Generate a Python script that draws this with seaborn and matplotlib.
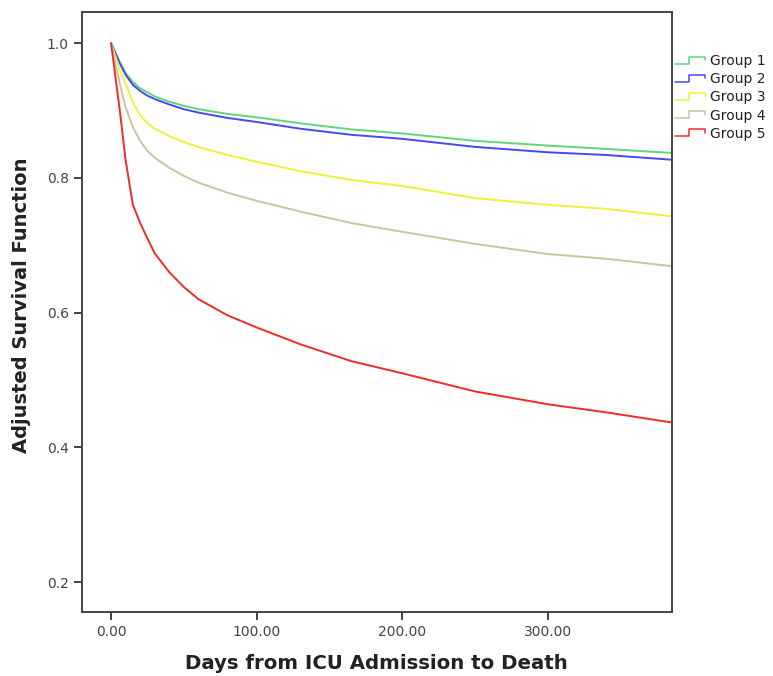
import numpy as np
import pandas as pd
import matplotlib
matplotlib.use("Agg")
import matplotlib.pyplot as plt
import seaborn as sns
from matplotlib.lines import Line2D
from matplotlib.legend_handler import HandlerBase

# Adjusted survival curves
days = [0, 3, 6, 10, 15, 20, 25, 30, 40, 50, 60, 80, 100, 130, 165, 200, 250, 300, 340, 385]
group1 = [1.0, 0.986, 0.972, 0.956, 0.942, 0.933, 0.927, 0.921, 0.913, 0.907, 0.902, 0.895,
          0.890, 0.881, 0.872, 0.866, 0.855, 0.848, 0.843, 0.837]
group2 = [1.0, 0.985, 0.970, 0.953, 0.938, 0.929, 0.922, 0.917, 0.909, 0.902, 0.897, 0.889,
          0.883, 0.873, 0.864, 0.858, 0.846, 0.838, 0.834, 0.827]
group3 = [1.0, 0.980, 0.960, 0.940, 0.912, 0.893, 0.881, 0.873, 0.862, 0.853, 0.846, 0.834,
          0.824, 0.810, 0.797, 0.788, 0.770, 0.760, 0.754, 0.743]
group4 = [1.0, 0.970, 0.940, 0.905, 0.875, 0.855, 0.840, 0.830, 0.815, 0.803, 0.793, 0.778,
          0.766, 0.750, 0.733, 0.720, 0.702, 0.687, 0.680, 0.669]
group5 = [1.0, 0.950, 0.900, 0.826, 0.760, 0.733, 0.710, 0.688, 0.660, 0.638, 0.620, 0.596,
          0.578, 0.553, 0.528, 0.510, 0.483, 0.464, 0.452, 0.437]

groups = ["Group 1", "Group 2", "Group 3", "Group 4", "Group 5"]
colors = ["#5ed67a", "#4848f5", "#f0f03c", "#cbc49c", "#ee2b2b"]
x_ticks = [0, 100, 200, 300]
y_ticks = [0.2, 0.4, 0.6, 0.8, 1.0]

rows = []
for name, vals in zip(groups, [group1, group2, group3, group4, group5]):
    for d, v in zip(days, vals):
        rows.append({"days": d, "survival": v, "group": name})
df = pd.DataFrame(rows)


class StepHandler(HandlerBase):
    # draws the little step icon SPSS uses in its legend
    def create_artists(self, legend, orig_handle, xdescent, ydescent,
                       width, height, fontsize, trans):
        x0, x1 = -xdescent, -xdescent + width
        y0, y1 = -ydescent + 0.15 * height, -ydescent + 0.85 * height
        xs = [x0, x0 + 0.45 * width, x0 + 0.45 * width, x1, x1]
        ys = [y0, y0, y1, y1, y0 + 0.35 * height]
        line = Line2D(xs, ys, color=orig_handle.get_color(), lw=1.1, transform=trans)
        return [line]


sns.set_style("white")
plt.rcParams['font.family'] = ['DejaVu Sans']

fig = plt.figure(figsize=(7.73, 6.76), dpi=100)
ax = fig.add_axes([0.106, 0.095, 0.763, 0.887])

sns.lineplot(data=df, x="days", y="survival", hue="group", palette=colors,
             hue_order=groups, linewidth=1.4, ax=ax, legend=False, estimator=None)

ax.set_xlim(-20, 385)
ax.set_ylim(0.156, 1.046)
ax.set_xticks(x_ticks)
ax.set_xticklabels([f"{t:.2f}" for t in x_ticks])
ax.set_yticks(y_ticks)
ax.set_yticklabels([f"{t:.1f}" for t in y_ticks])
ax.tick_params(direction="out", length=6, width=1.3, colors="#333333",
               labelsize=10, labelcolor="#444444", bottom=True, left=True)

for s in ax.spines.values():
    s.set_color("#444444")
    s.set_linewidth(1.4)

ax.set_xlabel("Days from ICU Admission to Death", fontsize=14.2, fontweight="bold",
              color="#222222", labelpad=11)
ax.set_ylabel("Adjusted Survival Function", fontsize=14, fontweight="bold",
              color="#222222")
ax.yaxis.set_label_coords(-0.086, 0.512)

handles = [Line2D([], [], color=c) for c in colors]
leg = fig.legend(handles, groups, loc="upper left", bbox_to_anchor=(0.873, 0.920),
                 frameon=False, fontsize=10, handler_map={Line2D: StepHandler()},
                 handlelength=2.2, handletextpad=0.3, labelspacing=0.3,
                 borderaxespad=0, borderpad=0)
for t in leg.get_texts():
    t.set_color("#222222")

fig.savefig("out.png", dpi=100)
